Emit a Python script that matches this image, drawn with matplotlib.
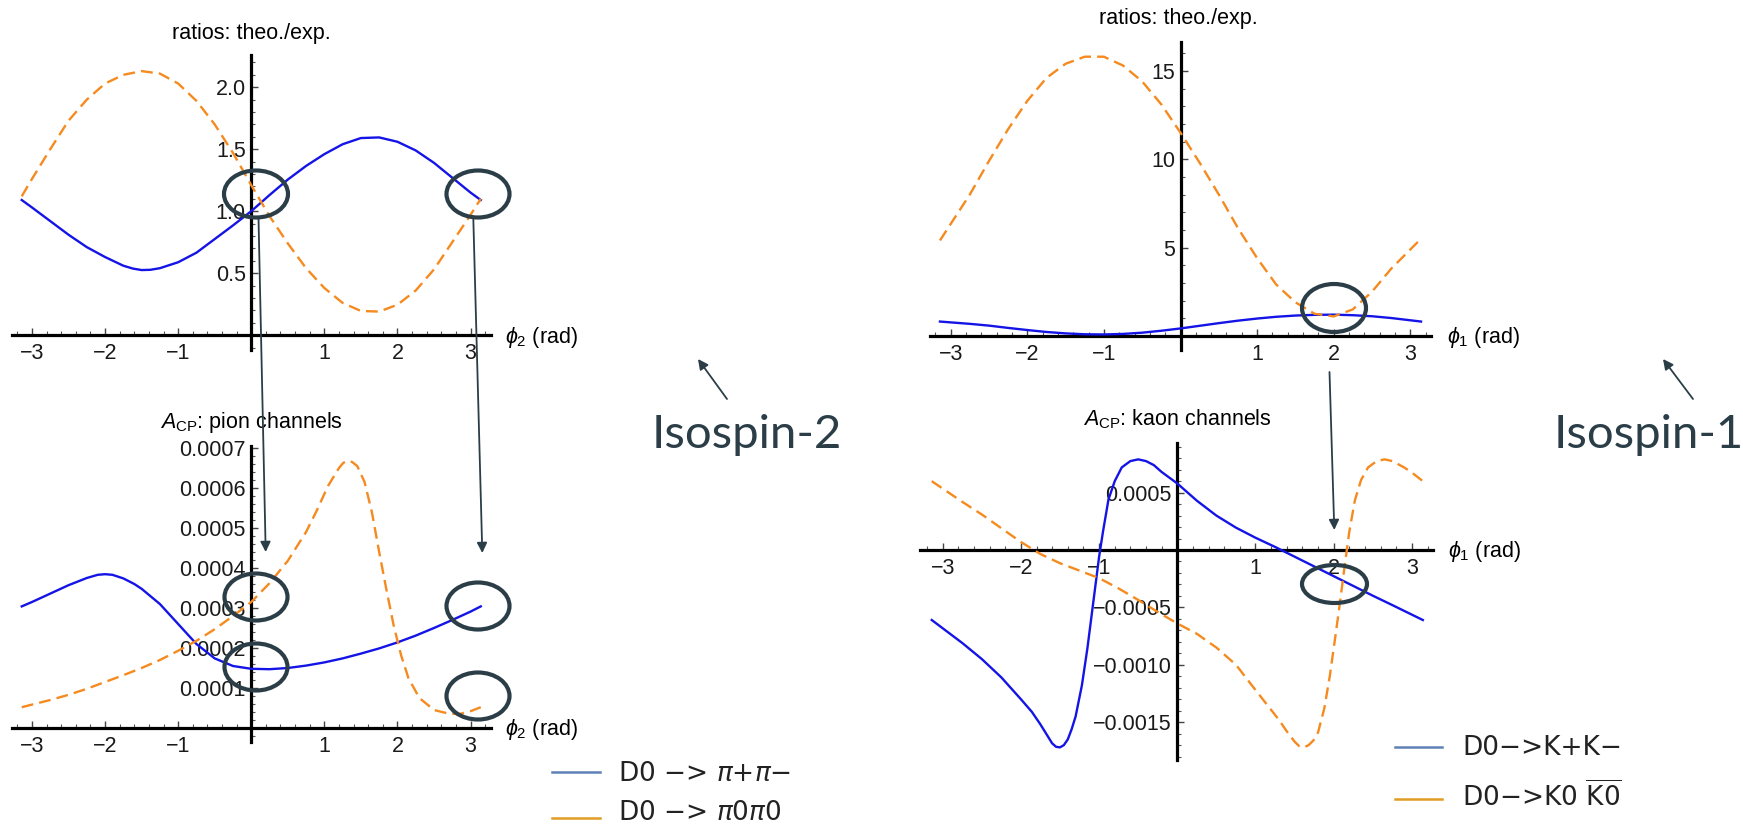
import matplotlib

matplotlib.use("Agg")
import matplotlib.pyplot as plt
from matplotlib.patches import Ellipse, FancyArrowPatch
from matplotlib.ticker import MultipleLocator

W, H = 1743, 827

# ---- data ----------------------------------------------------------------
# top left: ratios theo./exp., pion channels (phi_2)
pion_ratio_x = [-3.14, -3.0, -2.75, -2.5, -2.25, -2.0, -1.75, -1.62, -1.5, -1.38,
                -1.25, -1.0, -0.75, -0.5, -0.25, 0.0, 0.25, 0.5, 0.75, 1.0, 1.25,
                1.5, 1.75, 2.0, 2.25, 2.5, 2.75, 3.0, 3.14]
pion_ratio_pm = [1.09, 1.03, 0.92, 0.81, 0.71, 0.63, 0.56, 0.537, 0.525, 0.527,
                 0.54, 0.588, 0.665, 0.775, 0.885, 1.0, 1.13, 1.255, 1.365, 1.46,
                 1.54, 1.59, 1.595, 1.56, 1.49, 1.39, 1.27, 1.15, 1.09]
pion_ratio_00_x = [-3.14, -3.0, -2.75, -2.5, -2.25, -2.0, -1.75, -1.5, -1.25, -1.0,
                   -0.75, -0.5, -0.25, 0.0, 0.25, 0.5, 0.75, 1.0, 1.25, 1.5, 1.75,
                   2.0, 2.25, 2.5, 2.75, 3.0, 3.14]
pion_ratio_00 = [1.12, 1.26, 1.50, 1.73, 1.90, 2.03, 2.10, 2.13, 2.11, 2.03,
                 1.89, 1.70, 1.47, 1.21, 0.96, 0.74, 0.54, 0.38, 0.26, 0.195,
                 0.19, 0.245, 0.36, 0.53, 0.75, 0.97, 1.10]

# bottom left: A_CP pion channels
pion_acp_pm_x = [-3.14, -3.0, -2.75, -2.5, -2.25, -2.1, -2.0, -1.9, -1.75, -1.6,
                 -1.5, -1.25, -1.0, -0.75, -0.5, -0.25, 0.0, 0.25, 0.5, 0.75,
                 1.0, 1.25, 1.5, 1.75, 2.0, 2.25, 2.5, 2.75, 3.0, 3.14]
pion_acp_pm = [3.04e-4, 3.15e-4, 3.36e-4, 3.57e-4, 3.75e-4, 3.83e-4, 3.845e-4,
               3.83e-4, 3.74e-4, 3.60e-4, 3.48e-4, 3.10e-4, 2.60e-4, 2.10e-4,
               1.74e-4, 1.55e-4, 1.48e-4, 1.47e-4, 1.50e-4, 1.56e-4, 1.64e-4,
               1.74e-4, 1.86e-4, 1.99e-4, 2.14e-4, 2.31e-4, 2.50e-4, 2.70e-4,
               2.91e-4, 3.04e-4]
pion_acp_00_x = [-3.14, -2.75, -2.5, -2.25, -2.0, -1.75, -1.5, -1.25, -1.0, -0.75,
                 -0.5, -0.25, 0.0, 0.25, 0.5, 0.75, 0.9, 1.05, 1.2, 1.26, 1.32,
                 1.38, 1.45, 1.55, 1.65, 1.75, 1.85, 1.95, 2.05, 2.15, 2.3, 2.5,
                 2.7, 2.85, 3.0, 3.14]
pion_acp_00 = [0.52e-4, 0.70e-4, 0.83e-4, 0.98e-4, 1.15e-4, 1.32e-4, 1.50e-4,
               1.70e-4, 1.93e-4, 2.18e-4, 2.47e-4, 2.80e-4, 3.15e-4, 3.62e-4,
               4.18e-4, 4.90e-4, 5.45e-4, 6.05e-4, 6.50e-4, 6.63e-4, 6.68e-4,
               6.65e-4, 6.55e-4, 6.15e-4, 5.40e-4, 4.40e-4, 3.45e-4, 2.55e-4,
               1.82e-4, 1.25e-4, 0.75e-4, 0.45e-4, 0.36e-4, 0.35e-4, 0.42e-4,
               0.52e-4]

# top right: ratios theo./exp., kaon channels (phi_1)
kaon_ratio_x = [-3.14, -2.75, -2.5, -2.25, -2.0, -1.75, -1.5, -1.25, -1.0, -0.75,
                -0.5, -0.25, 0.0, 0.25, 0.5, 0.75, 1.0, 1.25, 1.5, 1.75, 2.0,
                2.25, 2.5, 2.75, 3.14]
kaon_ratio_pm = [0.81, 0.68, 0.58, 0.45, 0.33, 0.22, 0.14, 0.09, 0.08, 0.11,
                 0.18, 0.29, 0.42, 0.57, 0.72, 0.86, 0.98, 1.08, 1.15, 1.19, 1.20,
                 1.17, 1.11, 1.01, 0.81]
kaon_ratio_00 = [5.4, 8.0, 9.9, 11.7, 13.3, 14.6, 15.4, 15.8, 15.8, 15.3,
                 14.4, 13.1, 11.5, 9.8, 8.0, 6.1, 4.4, 2.9, 1.9, 1.25, 1.1,
                 1.5, 2.5, 3.8, 5.5]

# bottom right: A_CP kaon channels
kaon_acp_pm_x = [-3.14, -2.75, -2.5, -2.25, -2.0, -1.86, -1.75, -1.65, -1.6, -1.55,
                 -1.5, -1.45, -1.40, -1.35, -1.30, -1.22, -1.15, -1.09, -1.0,
                 -0.95, -0.88, -0.8, -0.71, -0.6, -0.5, -0.4, -0.3, -0.2, -0.1,
                 0.0, 0.25, 0.5, 0.75, 1.0, 1.25, 1.5, 1.75, 2.0, 2.25, 2.5,
                 2.75, 3.14]
kaon_acp_pm = [-6.1e-4, -8.1e-4, -9.5e-4, -11.1e-4, -13.0e-4, -14.1e-4, -15.2e-4,
               -16.3e-4, -16.85e-4, -17.15e-4, -17.2e-4, -17.0e-4, -16.5e-4,
               -15.6e-4, -14.5e-4, -11.8e-4, -8.6e-4, -5.4e-4, -0.6e-4, 1.6e-4,
               4.4e-4, 6.0e-4, 7.2e-4, 7.75e-4, 7.9e-4, 7.75e-4, 7.4e-4, 6.8e-4,
               6.3e-4, 5.8e-4, 4.3e-4, 3.0e-4, 1.95e-4, 1.07e-4, 0.27e-4, -0.58e-4,
               -1.43e-4, -2.28e-4, -3.13e-4, -3.98e-4, -4.8e-4, -6.1e-4]
kaon_acp_00_x = [-3.14, -2.75, -2.5, -2.25, -2.0, -1.75, -1.5, -1.25, -1.0, -0.75,
                 -0.5, -0.25, 0.0, 0.25, 0.5, 0.75, 1.0, 1.15, 1.3, 1.4, 1.5,
                 1.56, 1.62, 1.68, 1.74, 1.8, 1.88, 1.95, 2.02, 2.08, 2.14, 2.2,
                 2.27, 2.35, 2.44, 2.55, 2.65, 2.75, 2.9, 3.0, 3.14]
kaon_acp_00 = [6.0e-4, 4.2e-4, 3.1e-4, 1.9e-4, 0.7e-4, -0.35e-4, -1.15e-4,
               -1.8e-4, -2.45e-4, -3.35e-4, -4.35e-4, -5.4e-4, -6.4e-4, -7.3e-4,
               -8.5e-4, -10.0e-4, -12.2e-4, -13.5e-4, -14.8e-4, -15.8e-4,
               -16.7e-4, -17.1e-4, -17.2e-4, -17.0e-4, -16.6e-4, -15.9e-4,
               -13.8e-4, -11.0e-4, -7.6e-4, -4.6e-4, -1.4e-4, 1.6e-4, 4.3e-4,
               6.1e-4, 7.2e-4, 7.75e-4, 7.9e-4, 7.75e-4, 7.2e-4, 6.75e-4, 6.0e-4]

phi_ticks = [-3, -2, -1, 1, 2, 3]
pion_ratio_ticks = [0.5, 1.0, 1.5, 2.0]
pion_acp_ticks = [0.0001, 0.0002, 0.0003, 0.0004, 0.0005, 0.0006, 0.0007]
kaon_ratio_ticks = [5, 10, 15]
kaon_acp_ticks = [-0.0015, -0.0010, -0.0005, 0.0005]

pion_labels = ["D0 \u2212> $\\pi$+$\\pi$\u2212", "D0 \u2212> $\\pi$0$\\pi$0"]
kaon_labels = ["D0\u2212>K+K\u2212", "D0\u2212>K0 $\\overline{\\mathrm{K0}}$"]

# ---- styling --------------------------------------------------------------
BLUE = "#1414e6"
ORANGE = "#f58a1f"
LEG_BLUE = "#5e81b5"
LEG_ORANGE = "#e19c24"
SLATE = "#2b3e48"
TICK_SIZE = 15.5

plt.rcParams["font.family"] = ["Liberation Sans", "DejaVu Sans"]
plt.rcParams["mathtext.fontset"] = "custom"
plt.rcParams["mathtext.rm"] = "Liberation Sans"
plt.rcParams["mathtext.it"] = "Liberation Sans:italic"
plt.rcParams["axes.unicode_minus"] = True

fig = plt.figure(figsize=(W / 100, H / 100), dpi=100)


def px_axes(left, top, right, bottom):
    return fig.add_axes([left / W, 1 - bottom / H, (right - left) / W, (bottom - top) / H])


def style_panel(ax, xlim, ylim, yticks, yfmt, yminor):
    ax.set_xlim(xlim)
    ax.set_ylim(ylim)
    ax.patch.set_alpha(0)
    for side in ("top", "right"):
        ax.spines[side].set_visible(False)
    for side in ("left", "bottom"):
        ax.spines[side].set_position(("data", 0))
        ax.spines[side].set_linewidth(2.3)
    ax.set_xticks(phi_ticks, labels=[str(v).replace("-", "\u2212") for v in phi_ticks])
    ax.set_yticks(yticks, labels=[yfmt(v).replace("-", "\u2212") for v in yticks])
    ax.xaxis.set_minor_locator(MultipleLocator(0.2))
    ax.yaxis.set_minor_locator(MultipleLocator(yminor))
    ax.tick_params(which="major", direction="in", length=5, width=1.0,
                   color="#444444", labelsize=TICK_SIZE, labelcolor="#1a1a1a")
    ax.tick_params(which="minor", direction="in", length=3, width=0.8, color="#555555")
    ax.tick_params(axis="x", pad=6)
    ax.tick_params(axis="y", pad=4)


def draw_pair(ax, xb, yb, xo, yo):
    ax.plot(xb, yb, color=BLUE, lw=1.7, zorder=3, solid_joinstyle="round")
    ax.plot(xo, yo, color=ORANGE, lw=1.7, dashes=(5, 2.6), zorder=3,
            dash_joinstyle="round")


ax1 = px_axes(11.5, 55, 491, 350)
style_panel(ax1, (-3.28, 3.28), (-0.12, 2.26), pion_ratio_ticks, lambda v: f"{v:.1f}", 0.1)
draw_pair(ax1, pion_ratio_x, pion_ratio_pm, pion_ratio_00_x, pion_ratio_00)

ax2 = px_axes(11.5, 446, 491, 742)
style_panel(ax2, (-3.28, 3.28), (-0.000035, 0.000705), pion_acp_ticks,
            lambda v: f"{v:.4f}", 0.00002)
draw_pair(ax2, pion_acp_pm_x, pion_acp_pm, pion_acp_00_x, pion_acp_00)

ax3 = px_axes(930, 41.7, 1431, 350)
style_panel(ax3, (-3.27, 3.27), (-0.8, 16.65), kaon_ratio_ticks, lambda v: f"{v:g}", 1)
draw_pair(ax3, kaon_ratio_x, kaon_ratio_pm, kaon_ratio_x, kaon_ratio_00)

ax4 = px_axes(920, 443.3, 1433, 760)
style_panel(ax4, (-3.29, 3.27), (-0.00183, 0.00093), kaon_acp_ticks,
            lambda v: f"{v:.4f}", 0.0001)
draw_pair(ax4, kaon_acp_pm_x, kaon_acp_pm, kaon_acp_00_x, kaon_acp_00)

# ---- overlay in pixel coordinates: titles, labels, annotations -------------
ov = fig.add_axes([0, 0, 1, 1])
ov.set_xlim(0, W)
ov.set_ylim(H, 0)
ov.axis("off")

ov.text(251, 39, "ratios: theo./exp.", ha="center", va="baseline", fontsize=TICK_SIZE)
ov.text(1178, 24, "ratios: theo./exp.", ha="center", va="baseline", fontsize=TICK_SIZE)
ov.text(251, 428, r"$A_{\mathrm{CP}}$: pion channels", ha="center", va="baseline",
        fontsize=TICK_SIZE)
ov.text(1177, 425, r"$A_{\mathrm{CP}}$: kaon channels", ha="center", va="baseline",
        fontsize=TICK_SIZE)

ov.text(505, 337, r"$\phi_2$ (rad)", ha="left", va="center", fontsize=TICK_SIZE)
ov.text(505, 730, r"$\phi_2$ (rad)", ha="left", va="center", fontsize=TICK_SIZE)
ov.text(1447, 338, r"$\phi_1$ (rad)", ha="left", va="center", fontsize=TICK_SIZE)
ov.text(1448, 552, r"$\phi_1$ (rad)", ha="left", va="center", fontsize=TICK_SIZE)

ellipses = [(256, 194, 64, 47), (478, 194, 63, 47),
            (256, 597, 63, 47), (256, 667, 63, 47),
            (478, 606, 63, 47), (478, 696, 63, 47),
            (1334, 308, 64, 48), (1334.5, 584, 65, 38)]
for cx, cy, ew, eh in ellipses:
    ov.add_patch(Ellipse((cx, cy), ew, eh, fill=False, ec=SLATE, lw=3.0, zorder=5))

arrows = [((258.5, 218), (265.7, 552)), ((473.3, 218), (482.3, 553)),
          ((1329.5, 372), (1334.3, 530)),
          ((727, 399), (698, 359)), ((1693, 399), (1663, 359))]
for start, end in arrows:
    ov.add_patch(FancyArrowPatch(start, end, arrowstyle="-|>", mutation_scale=15,
                                 lw=1.3, color=SLATE, shrinkA=0, shrinkB=0, zorder=5))

ov.text(652, 448, "Isospin-2", family="Lato", fontsize=34, color=SLATE, va="baseline")
ov.text(1554, 448, "Isospin-1", family="Lato", fontsize=34, color=SLATE, va="baseline")

# legends
for (y, base, color, label) in zip([772, 818], [781, 820], [LEG_BLUE, LEG_ORANGE],
                                   pion_labels):
    ov.plot([552, 600], [y, y], color=color, lw=1.8)
    ov.text(618, base, label, va="baseline", ha="left", fontsize=19,
            family="DejaVu Sans", math_fontfamily="dejavusans", color="#222222")
for (y, base, color, label) in zip([747, 799], [755, 806], [LEG_BLUE, LEG_ORANGE],
                                   kaon_labels):
    ov.plot([1395, 1442], [y, y], color=color, lw=1.8)
    ov.text(1462, base, label, va="baseline", ha="left", fontsize=19,
            family="DejaVu Sans", math_fontfamily="dejavusans", color="#222222")

fig.savefig("out.png", dpi=100)
